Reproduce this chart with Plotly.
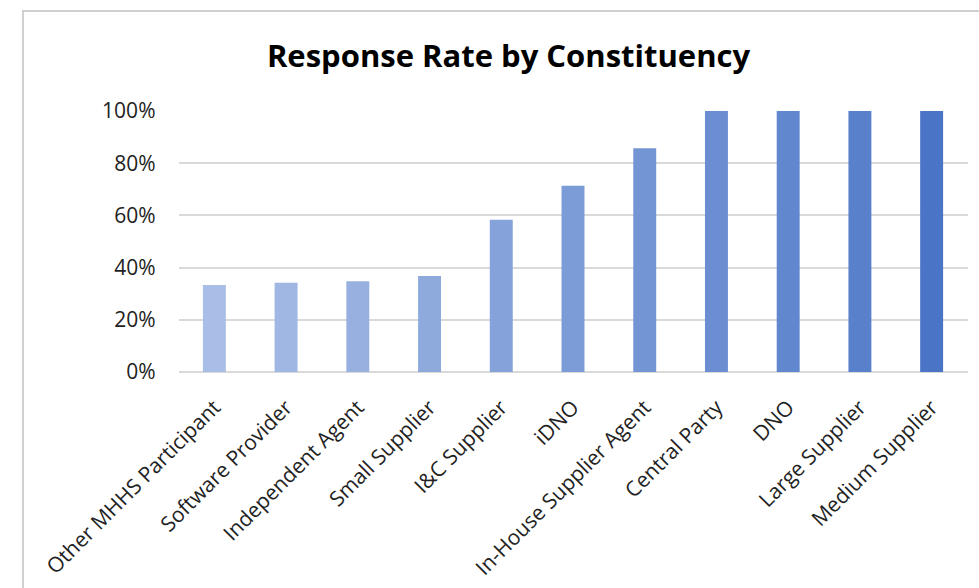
import plotly.graph_objects as go

categories = ["Other MHHS Participant", "Software Provider", "Independent Agent",
              "Small Supplier", "I&C Supplier", "iDNO", "In-House Supplier Agent",
              "Central Party", "DNO", "Large Supplier", "Medium Supplier"]
response_rate = [0.333, 0.342, 0.348, 0.368, 0.583, 0.714, 0.857, 1.0, 1.0, 1.0, 1.0]
bar_colors = ["#a9bee6", "#a0b7e3", "#97b0e0", "#8eaadd", "#85a3da", "#7c9cd7",
              "#7395d4", "#6a8ed1", "#6187ce", "#5880cb", "#4a75c6"]
y_ticks = [0, 0.2, 0.4, 0.6, 0.8, 1.0]

W, H = 979, 588
FONT = "'Open Sans', sans-serif"

fig = go.Figure(go.Bar(
    x=categories, y=response_rate,
    marker=dict(color=bar_colors, line=dict(width=0)),
    width=0.32,
))

fig.update_layout(
    width=W, height=H,
    margin=dict(l=0, r=0, t=0, b=0),
    paper_bgcolor="white", plot_bgcolor="white",
    showlegend=False,
    font=dict(family=FONT, color="#222222"),
    title=dict(text="<b>Response Rate by Constituency</b>",
               x=508.5 / W, xanchor="center", xref="paper",
               y=1 - 56 / H, yanchor="middle", yref="container",
               font=dict(size=31, color="#000000", family=FONT)),
    xaxis=dict(domain=[178.5 / W, 967.5 / W], tickangle=-45,
               tickfont=dict(size=21, color="#222222"),
               showgrid=False, showline=False, ticks="",
               automargin=False, ticklabelstandoff=18),
    yaxis=dict(domain=[(H - 372) / H, (H - 111) / H], range=[0, 1],
               tickvals=y_ticks, tickformat=".0%",
               tickfont=dict(size=21, color="#222222"),
               showgrid=True, gridcolor="#d9d9d9", gridwidth=1.5,
               zeroline=True, zerolinecolor="#d9d9d9", zerolinewidth=1.5,
               showline=False, ticks="", automargin=False,
               ticklabelstandoff=22),
    shapes=[dict(type="rect", xref="paper", yref="paper",
                 x0=23 / W, x1=1.05, y0=-0.05, y1=(H - 11) / H,
                 line=dict(color="#d0d0d0", width=2), fillcolor="rgba(0,0,0,0)",
                 layer="below")],
)

fig.write_html("out.html")
